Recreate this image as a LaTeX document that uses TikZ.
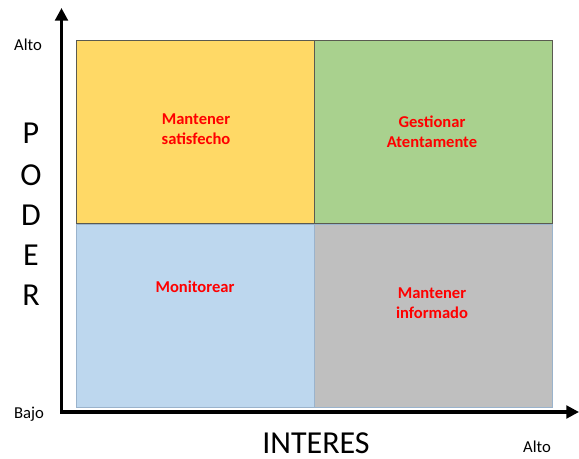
\documentclass[tikz,border=0pt]{standalone}
\usepackage{fontspec}
\setmainfont{Carlito}
\usepackage{tikz}
\usetikzlibrary{positioning, arrows.meta}

\definecolor{satisf}{HTML}{FFD966}
\definecolor{gestion}{HTML}{A9D18E}
\definecolor{monitor}{HTML}{BDD7EE}
\definecolor{inform}{HTML}{BFBFBF}
\definecolor{bordearriba}{HTML}{5A5A50}
\definecolor{bordeabajo}{HTML}{9AB3CC}

\tikzset{
  cuadro/.style={minimum width=178.5pt, minimum height=137.5pt, inner sep=0pt, anchor=north west, line width=0.8pt},
  tarea/.style={text=red, font=\fontsize{12.4}{15}\selectfont\bfseries, align=center},
  eje/.style={line width=2.3pt, -{Triangle[length=9.5pt,width=9.5pt]}},
  nivel/.style={font=\fontsize{12.5}{15}\selectfont},
  titulo/.style={font=\fontsize{24}{28}\selectfont, inner sep=0.5pt}
}

\begin{document}
\begin{tikzpicture}[x=0.75pt, y=-0.75pt]
\useasboundingbox (0,0) rectangle (579,459);

\node[cuadro, fill=monitor, draw=bordeabajo] (mon) at (76,223.5) {};
\node[cuadro, fill=inform, draw=bordeabajo] (inf) at (314,223.5) {};
\node[cuadro, fill=satisf, draw=bordearriba] (sat) at (76,40) {};
\node[cuadro, fill=gestion, draw=bordearriba] (ges) at (314,40) {};

\node[tarea] (tsat) at (196,129) {Mantener\\satisfecho};
\node[tarea] (tges) at (432,132) {Gestionar\\Atentamente};
\node[tarea] (tmon) at (195,287) {Monitorear};
\node[tarea] (tinf) at (432,303) {Mantener\\informado};

\coordinate (origen) at (61.5,412);
\coordinate (ytope) at (61.5,8);
\coordinate (xfin) at (579,412);
\draw[eje] (origen) -- (ytope);
\draw[eje] ([xshift=-1.1pt]origen) -- (xfin);

\node[nivel] (yalto) at (28,45) {Alto};
\node[nivel] (ybajo) at (29,414) {Bajo};
\node[nivel] (xalto) at (537,447) {Alto};

\node[titulo] (poder) at (31,133) {P};
\node[titulo] (o) at (31,175) {O};
\node[titulo] (d) at (31,215) {D};
\node[titulo] (e) at (31,255) {E};
\node[titulo] (r) at (31,295) {R};
\node[titulo] (interes) at (316,443) {INTERES};
\end{tikzpicture}
\end{document}
